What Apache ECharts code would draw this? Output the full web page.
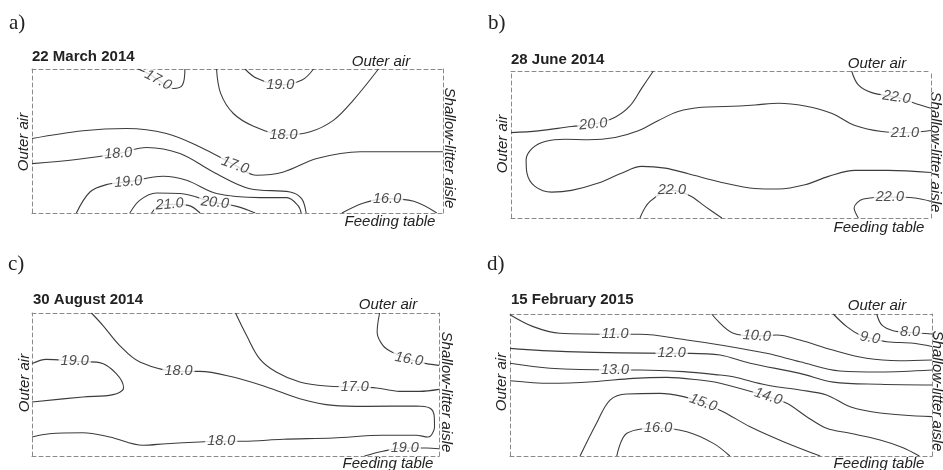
<!DOCTYPE html>
<html><head><meta charset="utf-8">
<script src="https://cdn.jsdelivr.net/npm/echarts@6/dist/echarts.min.js"></script>
<style>html,body{margin:0;padding:0;background:#fff}#c{width:943px;height:470px}</style>
</head><body><div id="c"></div>
<script>
// ---------- Panel a: 22 March 2014 (x: 0..100 along length, y: 0 = feeding table, 100 = outer air) ----------
const a17top = [[25.8,100],[28.5,96.5],[30.7,92.3],[34.4,86.5],[36.6,88.9],[37.2,100]];
const a19top = [[51.8,100],[54.7,93.5],[60.4,88.9],[65.7,92.3],[68.5,100]];
const a18top = [[44.9,100],[45.9,83.1],[49.0,69.1],[53.9,60.3],[61.2,54.1],[67.7,56.4],[73.4,64.5],[78.2,78.4],[84.3,100]];
const a17mid = [[0,51.7],[12.4,57.1],[23.0,58.7],[32.7,55.2],[40.9,45.9],[49.4,33.2],[54.7,26.2],[61.2,28.5],[69.3,37.8],[79.9,42.5],[100,42.5]];
const a18mid = [[0,34.3],[10.8,37.1],[21.0,41.3],[27.9,45.5],[36.0,41.3],[44.1,28.5],[53.0,16.9],[62.8,14.6],[65.6,10.0],[66.7,0]];
const a19bot = [[10.8,0],[14.1,14.6],[18.1,19.7],[23.4,21.6],[31.9,25.5],[37.6,22.7],[44.9,13.5],[55.5,10.7],[62.0,10.7],[64.7,5.3],[65.5,0]];
const a20 = [[23.8,0],[26.2,8.8],[30.3,13.9],[36.0,13.5],[44.5,7.2],[49.8,4.6],[54.3,0]];
const a21 = [[29.1,0],[30.3,3.7],[33.5,6.0],[38.0,5.3],[40.9,0]];
const a16 = [[75.4,0],[80.7,7.0],[86.4,10.0],[92.9,8.1],[98.5,0]];
const aLabels = [[30.7,92.3,'17.0'],[60.4,88.9,'19.0'],[61.2,54.1,'18.0'],[49.4,33.2,'17.0'],[21.0,41.3,'18.0'],[23.4,21.6,'19.0'],[44.5,7.2,'20.0'],[33.5,6.0,'21.0'],[86.4,10.0,'16.0']];
const aRot = [-28,0,0,-20,4,4,-6,5,0];

// ---------- Panel b: 28 June 2014 ----------
const b20 = [[0,58.1],[6.5,59.3],[14.4,62.2],[19.6,63.8],[24.8,68.6],[28.3,76.2],[31.1,88.2],[33.9,100]];
const b21 = [[100,59.5],[93.8,58.1],[88.3,58.8],[81.9,62.9],[76.3,71.3],[70.0,76.2],[63.7,78.1],[58.1,76.9],[51.0,75.8],[45.4,75.3],[39.8,72.4],[35.1,66.3],[30.3,59.3],[24.8,54.8],[18.4,53.2],[12.9,53.6],[8.1,52.0],[5.1,47.5],[3.6,39.6],[3.8,30.5],[5.7,21.5],[9.7,17.6],[14.4,18.8],[20.8,23.8],[26.3,30.5],[31.1,35.1],[36.7,33.9],[42.2,30.1],[50.2,24.2],[58.1,20.1],[63.7,19.7],[70.0,22.6],[75.6,28.3],[81.9,32.4],[89.8,32.4],[100,31.0]];
const b22top = [[81.1,100],[82.7,90.5],[85.9,85.3],[91.8,82.1],[96.6,77.6],[100,74.7]];
const b22bot = [[30.7,0],[33.1,11.3],[38.3,18.8],[42.6,15.2],[46.2,7.9],[50.2,0]];
const b22br = [[82.7,0],[81.7,6.8],[83.9,12.9],[90.2,14.3],[96.2,13.6],[100,11.3]];
const bLabels = [[19.6,63.8,'20.0'],[93.8,58.1,'21.0'],[91.8,82.1,'22.0'],[38.3,18.8,'22.0'],[90.2,14.3,'22.0']];
const bRot = [5,0,-8,0,0];

// ---------- Panel c: 30 August 2014 ----------
const c18 = [[14.6,100],[17.4,91.4],[21.5,77.4],[26.5,65.7],[36.0,59.2],[41.2,59.2],[49.4,55.2],[57.6,48.3],[65.8,40.1],[74.0,35.4],[82.1,34.7],[94.4,35.0],[97.7,33.6],[98.8,28.4],[98.9,20.3],[98.1,14.5],[97.3,13.3],[94.4,14.5],[86.2,14.5],[74.0,12.6],[61.7,11.7],[51.8,10.3],[46.5,10.3],[41.2,9.8],[33.0,8.6],[27.3,7.5],[19.1,13.3],[12.5,16.3],[4.3,15.6],[0,13.3]];
const c19 = [[0,64.6],[3.5,67.6],[10.5,66.2],[16.6,65.3],[20.7,57.6],[22.5,47.6],[19.9,42.9],[12.5,41.3],[0,37.8]];
const c17 = [[50.0,100],[52.7,84.4],[55.9,68.1],[60.0,58.7],[65.8,51.7],[72.3,48.9],[79.3,48.3],[84.6,47.6],[90.3,45.2],[95.2,45.2],[100,46.6]];
const c16 = [[85.4,100],[84.8,86.7],[86.2,77.4],[88.7,72.3],[92.6,67.6],[96.9,64.6],[100,63.4]];
const c19br = [[81.7,0],[86.2,3.3],[91.6,5.6],[96.9,5.6],[100,5.1]];
const cLabels = [[10.5,66.2,'19.0'],[36.0,59.2,'18.0'],[46.5,10.3,'18.0'],[79.3,48.3,'17.0'],[92.6,67.6,'16.0'],[91.6,5.6,'19.0']];
const cRot = [0,0,0,0,-10,0];

// ---------- Panel d: 15 February 2015 ----------
const d8 = [[86.9,100],[88.1,92.3],[90.8,88.2],[94.8,87.0],[100,85.9]];
const d9 = [[76.6,100],[79.8,91.1],[82.9,85.2],[85.3,83.1],[89.3,80.5],[95.6,79.4],[100,77.1]];
const d10 = [[47.8,100],[52.9,86.4],[58.5,84.5],[63.2,85.2],[68.7,81.7],[76.5,74.6],[84.5,68.8],[92.4,67.1],[100,67.6]];
const d11 = [[0,99.5],[5.5,91.1],[11.8,86.4],[24.9,85.7],[30.8,85.7],[41.9,81.7],[49.8,78.2],[60.8,72.3],[68.7,66.4],[78.2,59.9],[87.7,59.2],[100,60.6]];
const d12 = [[0,75.8],[13.4,73.5],[38.3,72.3],[42.7,72.3],[49.8,71.1],[56.9,65.3],[68.7,58.2],[76.6,52.0],[87.7,50.5],[100,50.0]];
const d13 = [[0,65.3],[9.5,61.8],[24.9,60.6],[30.8,60.6],[41.1,59.4],[49.8,57.0],[52.9,55.8],[60.8,50.0],[68.7,46.5],[75.0,43.0],[80.6,34.7],[87.7,30.3],[100,27.7]];
const d14 = [[0,53.0],[9.5,51.2],[19.7,52.3],[29.2,54.7],[37.1,55.4],[45.0,53.5],[49.8,51.2],[61.2,41.8],[65.6,37.1],[70.3,27.7],[75.0,19.5],[80.6,16.0],[87.7,11.3],[93.0,6.0],[97.0,0]];
const d15 = [[16.6,0],[20.5,23.0],[23.7,39.4],[27.7,43.7],[35.5,44.1],[41.1,41.8],[45.8,37.5],[50.5,31.2],[56.9,20.6],[64.8,10.1],[73.5,0]];
const d16 = [[25.3,0],[27.7,16.0],[35.1,19.5],[41.9,17.1],[48.2,8.9],[52.1,0]];
const dLabels = [[24.9,85.7,'11.0'],[58.5,84.5,'10.0'],[85.3,83.1,'9.0'],[94.8,87.0,'8.0'],[38.3,72.3,'12.0'],[24.9,60.6,'13.0'],[61.2,41.8,'14.0'],[45.8,37.5,'15.0'],[35.1,19.5,'16.0']];
const dRot = [0,-4,-10,0,0,0,-18,-20,0];

// ---------- Text ----------
const panelLetters = ['a)','b)','c)','d)'];
const panelDates = ['22 March 2014','28 June 2014','30 August 2014','15 February 2015'];
const sideTop = 'Outer air', sideLeft = 'Outer air', sideRight = 'Shallow-litter aisle', sideBottom = 'Feeding table';

// ---------- Build ----------
const panels = [
  {lines:[a17top,a19top,a18top,a17mid,a18mid,a19bot,a20,a21,a16], labels:aLabels, rot:aRot,
   grid:{left:32,top:69,width:411,height:144}},
  {lines:[b20,b21,b22top,b22bot,b22br], labels:bLabels, rot:bRot,
   grid:{left:511,top:71,width:420,height:147}},
  {lines:[c18,c19,c17,c16,c19br], labels:cLabels, rot:cRot,
   grid:{left:32,top:313,width:407,height:143}},
  {lines:[d8,d9,d10,d11,d12,d13,d14,d15,d16], labels:dLabels, rot:dRot,
   grid:{left:510,top:314,width:422,height:142}}
];
const textPos = [
  {letter:[9,23], date:[32,57], top:[381,62], left:[24,142], right:[449,148], bottom:[390,222]},
  {letter:[488,23], date:[511,60], top:[877,64], left:[503,144], right:[935,152], bottom:[879,228]},
  {letter:[8,264], date:[33,300], top:[388,305], left:[25,383], right:[446,392], bottom:[388,464]},
  {letter:[487,264], date:[511,300], top:[877,306], left:[502,382], right:[937,391], bottom:[879,464]}
];

const dash = {show:true, onZero:false, lineStyle:{color:'#8a8a8a', width:1, type:[4,3]}};
const grid=[], xAxis=[], yAxis=[], series=[], graphic=[];
panels.forEach((p,i)=>{
  grid.push(Object.assign({containLabel:false}, p.grid));
  ['bottom','top'].forEach(pos=>xAxis.push({type:'value',gridIndex:i,min:0,max:100,position:pos,
     axisLine:dash,axisTick:{show:false},axisLabel:{show:false},splitLine:{show:false}}));
  ['left','right'].forEach(pos=>yAxis.push({type:'value',gridIndex:i,min:0,max:100,position:pos,
     axisLine:dash,axisTick:{show:false},axisLabel:{show:false},splitLine:{show:false}}));
  p.lines.forEach(pts=>series.push({type:'line',xAxisIndex:2*i,yAxisIndex:2*i,data:pts,smooth:0.35,
     showSymbol:false,symbol:'none',silent:true,z:2,lineStyle:{color:'#3c3c3c',width:1.1}}));
  series.push({type:'scatter',xAxisIndex:2*i,yAxisIndex:2*i,symbolSize:1,silent:true,z:5,
     itemStyle:{color:'rgba(0,0,0,0)'},
     label:{show:true,position:'inside',formatter:q=>q.name,color:'#222',
       fontFamily:'Liberation Sans',fontStyle:'italic',fontSize:14.5,backgroundColor:'#fff',padding:[0,2]},
     data:p.labels.map((l,k)=>({name:l[2],value:[l[0],l[1]],label:{rotate:p.rot[k]}}))});
  const t=textPos[i];
  const mk=(txt,pos,font,align,rot)=>({type:'text',x:pos[0],y:pos[1],rotation:rot||0,silent:true,
     style:{text:txt,font:font,fill:'#222',align:align,verticalAlign:'middle'}});
  graphic.push(mk(panelLetters[i],t.letter,'21px "Liberation Serif"','left'));
  graphic.push(mk(panelDates[i],t.date,'bold 15px "Liberation Sans"','left'));
  graphic.push(mk(sideTop,t.top,'italic 15px "Liberation Sans"','center'));
  graphic.push(mk(sideBottom,t.bottom,'italic 15px "Liberation Sans"','center'));
  graphic.push(mk(sideLeft,t.left,'italic 15px "Liberation Sans"','center',Math.PI/2));
  graphic.push(mk(sideRight,t.right,'italic 15px "Liberation Sans"','center',-Math.PI/2));
});

const chart = echarts.init(document.getElementById('c'), null, {renderer:'canvas'});
chart.setOption({animation:false, backgroundColor:'#fff', grid, xAxis, yAxis, series, graphic});
</script></body></html>
